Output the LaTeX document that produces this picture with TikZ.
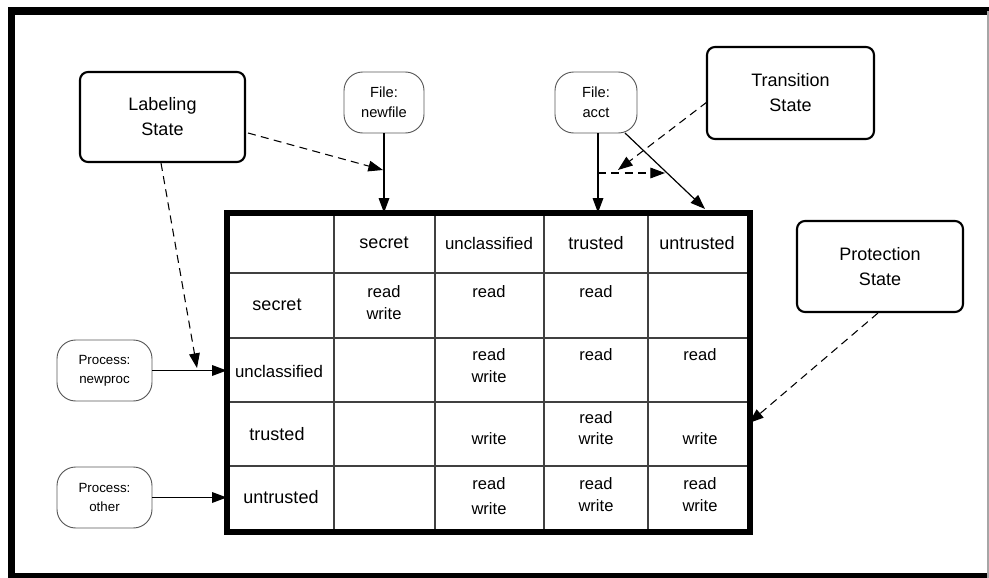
\documentclass[tikz,border=0pt]{standalone}
\usepackage{fontspec}
\setmainfont{Liberation Sans}
\usetikzlibrary{arrows.meta}

\begin{document}
\begin{tikzpicture}[x=0.75pt,y=-0.75pt,
  statebox/.style={draw, line width=1.6pt, rounded corners=6pt, align=center,
    font=\fontsize{13.5}{18.75}\selectfont, inner sep=0pt},
  entity/.style={draw=black!65, line width=0.7pt, rounded corners=14pt, align=center,
    inner sep=0pt},
  filefont/.style={font=\fontsize{11}{15}\selectfont},
  procfont/.style={font=\fontsize{10}{14.25}\selectfont},
  flow/.style={-{Triangle[length=11pt,width=8pt]}, line width=0.9pt},
  dflow/.style={flow, dash pattern=on 6pt off 4pt, line width=0.8pt},
  grid/.style={line width=0.8pt, draw=black!75},
  hd/.style={font=\fontsize{13.5}{16}\selectfont, inner sep=0pt},
  hdsmall/.style={font=\fontsize{12.6}{16}\selectfont, inner sep=0pt},
  cell/.style={font=\fontsize{12.4}{16}\selectfont, inner sep=0pt}
]
\useasboundingbox (0,0) rectangle (989,578);

% outer frame (open to the right, thin edge there)
\draw[line width=5.5pt] (1000,11) -- (11.5,11) -- (11.5,577) -- (1000,577);
\draw[black!35, line width=0.8pt] (988,11) -- (988,578);

% access matrix
\node (tbl) [minimum width=392.25pt, minimum height=239.25pt, inner sep=0pt]
  at (488.5,372.5) {};
\foreach \x in {334,435,544,648} \draw[grid] (\x,213) -- (\x,532);
\foreach \y in {273,338,402,466} \draw[grid] (227,\y) -- (750,\y);
\draw[line width=4.5pt] (tbl.north west) rectangle (tbl.south east);

% column headers
\node[hd] (cs) at (384,243) {secret};
\node[hdsmall] (cu) at (489,243) {unclassified};
\node[hd] (ct) at (596,243) {trusted};
\node[hd] (cn) at (697,243) {untrusted};
% row headers
\node[hd] (rs) at (277,305) {secret};
\node[hdsmall] (ru) at (279,371) {unclassified};
\node[hd] (rt) at (277,434) {trusted};
\node[hd] (rn) at (281,497) {untrusted};

% row: secret
\node[cell] (s1a) at (384,292) {read};
\node[cell] (s1b) at (384,314) {write};
\node[cell] (s2a) at (489,292) {read};
\node[cell] (s3a) at (596,292) {read};
% row: unclassified
\node[cell] (u2a) at (489,355) {read};
\node[cell] (u2b) at (489,377) {write};
\node[cell] (u3a) at (596,355) {read};
\node[cell] (u4a) at (700,355) {read};
% row: trusted
\node[cell] (t2b) at (489,439) {write};
\node[cell] (t3a) at (596,418) {read};
\node[cell] (t3b) at (596,439) {write};
\node[cell] (t4b) at (700,439) {write};
% row: untrusted
\node[cell] (n2a) at (489,484) {read};
\node[cell] (n2b) at (489,509) {write};
\node[cell] (n3a) at (596,484) {read};
\node[cell] (n3b) at (596,506) {write};
\node[cell] (n4a) at (700,484) {read};
\node[cell] (n4b) at (700,506) {write};

% state boxes
\node[statebox, minimum width=123.75pt, minimum height=67.5pt] (lab) at (162.5,117) {Labeling\\State};
\node[statebox, minimum width=125.25pt, minimum height=69pt] (trans) at (790.5,93) {Transition\\State};
\node[statebox, minimum width=124.5pt, minimum height=68.25pt] (prot) at (880,266.5) {Protection\\State};

% subjects and objects
\node[entity, filefont, minimum width=60pt, minimum height=45.75pt] (newfile) at (384,102.5) {File:\\newfile};
\node[entity, filefont, minimum width=61.5pt, minimum height=45.75pt] (acct) at (596,102.5) {File:\\acct};
\node[entity, procfont, minimum width=71.25pt, minimum height=45.75pt] (newproc) at (104.5,370.5) {Process:\\newproc};
\node[entity, procfont, minimum width=71.25pt, minimum height=45.75pt] (other) at (104.5,497.5) {Process:\\other};

% connector end points
\coordinate (acctv) at (598,133);
\coordinate (acctd) at (625,133);
\coordinate (acctdend) at (705,209);
\coordinate (fork) at (598,173);
\coordinate (forkend) at (665,173);
\coordinate (transend) at (618,170);
\coordinate (labend1) at (383,170);
\coordinate (labstart1) at (248,133);
\coordinate (labstart2) at (161,163);
\coordinate (labend2) at (197,368);
\coordinate (transstart) at (707,102);
\coordinate (protstart) at (878,313);
\coordinate (protend) at (749,423);

% solid connectors
\draw[flow] (newfile.south) -- (newfile.south |- tbl.north);
\draw[flow] (acctv) -- (acctv |- tbl.north);
\draw[flow] (acctd) -- (acctdend);
\draw[flow] (newproc.east) -- (newproc.east -| tbl.west);
\draw[flow] (other.east) -- (other.east -| tbl.west);

% dashed connectors
\draw[dflow] (labstart1) -- (labend1);
\draw[dflow] (labstart2) -- (labend2);
\draw[dflow] (transstart) -- (transend);
\draw[dflow] (fork) -- (forkend);
\draw[dflow] (protstart) -- (protend);
\end{tikzpicture}
\end{document}
